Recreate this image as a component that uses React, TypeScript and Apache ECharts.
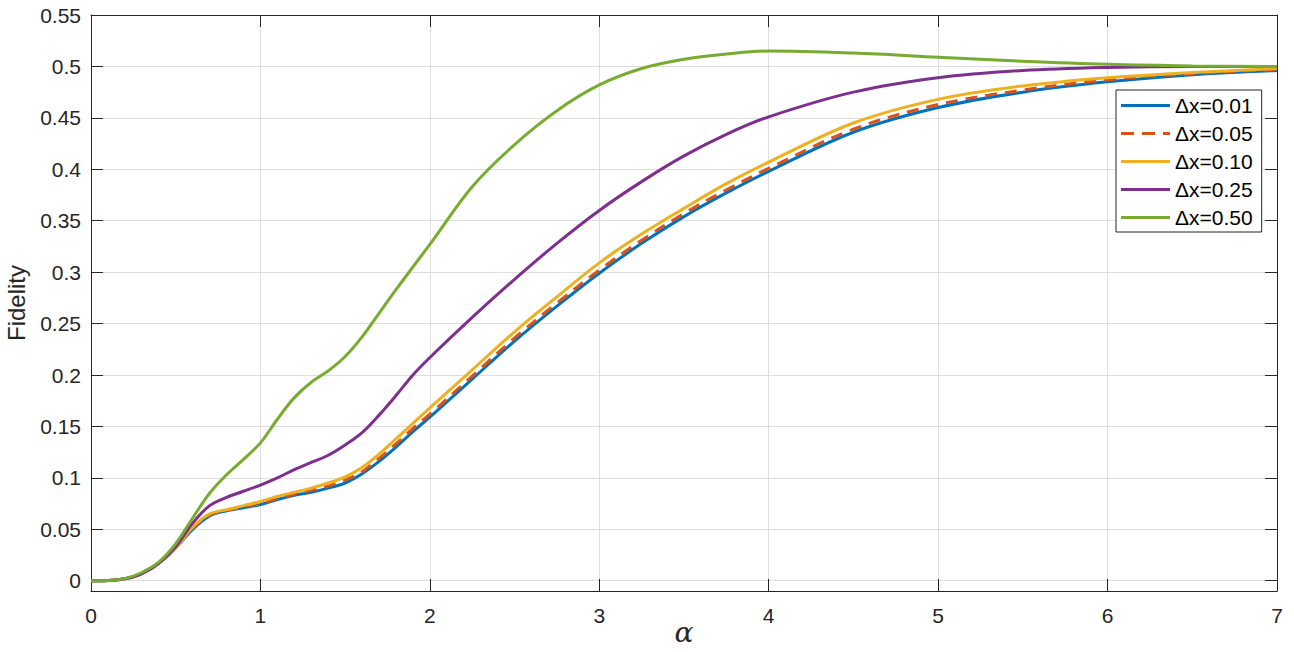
import React, { useEffect, useRef } from "react";
import * as echarts from "echarts";

const alpha = [0, 0.1, 0.2, 0.3, 0.4, 0.5, 0.6, 0.7, 0.8, 0.9, 1.0, 1.1, 1.2, 1.3, 1.4, 1.5, 1.6, 1.7, 1.8, 1.9, 2.0, 2.25, 2.5, 2.75, 3.0, 3.25, 3.5, 3.75, 4.0, 4.5, 5.0, 5.5, 6.0, 6.5, 7.0];

const fid01 = [0, 0.0003, 0.002, 0.007, 0.017, 0.032, 0.050, 0.063, 0.068, 0.071, 0.074, 0.079, 0.083, 0.086, 0.090, 0.095, 0.104, 0.116, 0.130, 0.145, 0.159, 0.196, 0.233, 0.267, 0.299, 0.328, 0.354, 0.377, 0.398, 0.436, 0.460, 0.475, 0.485, 0.492, 0.496];
const fid05 = [0, 0.0003, 0.002, 0.007, 0.017, 0.032, 0.051, 0.064, 0.068, 0.072, 0.075, 0.080, 0.084, 0.088, 0.092, 0.098, 0.106, 0.119, 0.133, 0.148, 0.162, 0.199, 0.236, 0.270, 0.302, 0.331, 0.357, 0.380, 0.401, 0.439, 0.463, 0.477, 0.487, 0.493, 0.497];
const fid10 = [0, 0.0003, 0.002, 0.007, 0.017, 0.032, 0.052, 0.065, 0.069, 0.073, 0.077, 0.082, 0.086, 0.090, 0.095, 0.101, 0.110, 0.123, 0.138, 0.153, 0.168, 0.205, 0.242, 0.276, 0.309, 0.337, 0.362, 0.386, 0.407, 0.445, 0.468, 0.481, 0.489, 0.494, 0.498];
const fid25 = [0, 0.0003, 0.002, 0.007, 0.017, 0.033, 0.056, 0.073, 0.081, 0.087, 0.093, 0.100, 0.108, 0.115, 0.122, 0.132, 0.144, 0.161, 0.180, 0.200, 0.217, 0.256, 0.293, 0.328, 0.360, 0.388, 0.413, 0.434, 0.451, 0.475, 0.489, 0.496, 0.499, 0.500, 0.500];
const fid50 = [0, 0.0003, 0.002, 0.008, 0.018, 0.036, 0.061, 0.085, 0.103, 0.118, 0.134, 0.157, 0.178, 0.193, 0.204, 0.218, 0.237, 0.260, 0.283, 0.305, 0.327, 0.383, 0.424, 0.457, 0.482, 0.498, 0.507, 0.512, 0.515, 0.513, 0.509, 0.505, 0.502, 0.5005, 0.500];

const seriesNames = ["\u0394x=0.01", "\u0394x=0.05", "\u0394x=0.10", "\u0394x=0.25", "\u0394x=0.50"];
const seriesData = [fid01, fid05, fid10, fid25, fid50];
const seriesColors = ["#0072BD", "#D95319", "#EDB120", "#7E2F8E", "#77AC30"];
const seriesDash = ["solid", [12, 8], "solid", "solid", "solid"];

const xMin = 0;
const xMax = 7;
const xStep = 1;
const yMin = -0.01;
const yMax = 0.55;
const yTicks = [0, 0.05, 0.1, 0.15, 0.2, 0.25, 0.3, 0.35, 0.4, 0.45, 0.5, 0.55];

const INK = "#262626";
const FONT = "'Liberation Sans', Arial, Helvetica, sans-serif";
const SOLID_ICON = "path://M0,0h49v3h-49z";
const DASH_ICON = "path://M0,0h13v3h-13z M21,0h13v3h-13z M42,0h7v3h-7z";

export default function App() {
  const ref = useRef<HTMLDivElement>(null);
  useEffect(() => {
    if (!ref.current) return;
    const chart = echarts.init(ref.current, null, { renderer: "svg" });
    const yLabelFmt = (v: number) => String(Math.round(v * 100) / 100);
    const commonY = {
      type: "value",
      min: yMin,
      max: yMax,
      axisLine: { show: true, onZero: false, lineStyle: { color: INK, width: 1 } },
      axisTick: { show: true, inside: true, length: 12, customValues: yTicks, lineStyle: { color: INK } },
    };
    const commonX = {
      type: "value",
      min: xMin,
      max: xMax,
      interval: xStep,
      axisLine: { show: true, onZero: false, lineStyle: { color: INK, width: 1 } },
      axisTick: { show: true, inside: true, length: 12, lineStyle: { color: INK } },
    };
    chart.setOption({
      animation: false,
      backgroundColor: "#ffffff",
      grid: { left: 91, right: 17, top: 15, bottom: 61, containLabel: false, outerBoundsMode: "none" },
      xAxis: [
        {
          ...commonX,
          position: "bottom",
          name: "\u03b1",
          nameLocation: "middle",
          nameGap: 27,
          nameMoveOverlap: false,
          nameTextStyle: {
            fontFamily: "'DejaVu Serif', 'Liberation Serif', serif",
            fontStyle: "italic",
            fontSize: 28,
            color: INK,
          },
          axisLabel: { show: true, margin: 14, fontSize: 21, color: INK, fontFamily: FONT },
          splitLine: { show: true, lineStyle: { color: "#dfdfdf", width: 1 } },
        },
        {
          ...commonX,
          position: "top",
          axisLabel: { show: false },
          splitLine: { show: false },
        },
      ],
      yAxis: [
        {
          ...commonY,
          position: "left",
          name: "Fidelity",
          nameLocation: "middle",
          nameGap: 63,
          nameMoveOverlap: false,
          nameTextStyle: { fontFamily: FONT, fontSize: 24, color: INK },
          axisLabel: {
            show: true,
            margin: 10,
            fontSize: 21,
            color: INK,
            fontFamily: FONT,
            customValues: yTicks,
            formatter: yLabelFmt,
          },
          splitLine: { show: true, lineStyle: { color: "#dfdfdf", width: 1 } },
        },
        {
          ...commonY,
          position: "right",
          axisLabel: { show: false },
          splitLine: { show: false },
        },
      ],
      legend: {
        orient: "vertical",
        left: 1116,
        top: 90,
        backgroundColor: "#ffffff",
        borderColor: INK,
        borderWidth: 1,
        borderRadius: 0,
        padding: [5, 9, 4, 5],
        itemWidth: 49,
        itemHeight: 3,
        itemGap: 7,
        textStyle: { fontSize: 21, color: "#000000", fontFamily: FONT, lineHeight: 21 },
        data: seriesNames.map((name, i) => ({
          name,
          icon: seriesDash[i] === "solid" ? SOLID_ICON : DASH_ICON,
          itemStyle: { color: seriesColors[i] },
        })),
      },
      series: seriesNames.map((name, i) => ({
        name,
        type: "line",
        xAxisIndex: 0,
        yAxisIndex: 0,
        data: alpha.map((a, j) => [a, seriesData[i][j]]),
        smooth: 0.35,
        symbol: "none",
        showSymbol: false,
        lineStyle: { color: seriesColors[i], width: 3, type: seriesDash[i] },
        itemStyle: { color: seriesColors[i] },
        z: 2 + i,
      })),
    });
    return () => chart.dispose();
  }, []);
  return (
    <div
      ref={ref}
      style={{ position: "fixed", left: 0, top: 0, width: 1294, height: 652, background: "#fff" }}
    />
  );
}
